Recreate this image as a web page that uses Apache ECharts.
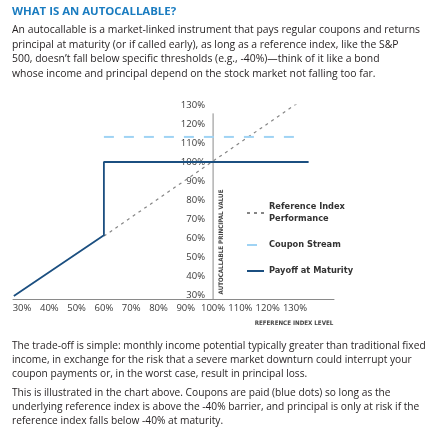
<!DOCTYPE html>
<html>
<head>
<meta charset="utf-8">
<script src="https://cdn.jsdelivr.net/npm/echarts@6/dist/echarts.min.js"></script>
<style>
  html, body { margin: 0; padding: 0; background: #fff; }
  #page { position: relative; width: 432px; height: 443px; overflow: hidden; }
  #chart { position: absolute; left: 0; top: 0; width: 432px; height: 443px; }
  .txt { position: absolute; left: 12px; white-space: nowrap; color: #231f20;
         font-family: "Open Sans", sans-serif; font-size: 10.4px; line-height: 14.5px; }
  #title { position: absolute; left: 12px; top: 3px; color: #1a7cc0; font-family: "Open Sans", sans-serif;
           font-weight: bold; font-size: 11.4px; white-space: nowrap; }
</style>
</head>
<body>
<div id="page">
  <div id="chart"></div>
  <div id="title">WHAT IS AN AUTOCALLABLE?</div>
  <div class="txt" style="top:22px">An autocallable is a market-linked instrument that pays regular coupons and returns<br>principal at maturity (or if called early), as long as a reference index, like the S&amp;P<br>500, doesn’t fall below specific thresholds (e.g., -40%)—think of it like a bond<br>whose income and principal depend on the stock market not falling too far.</div>
  <div class="txt" style="top:338px; line-height:14px; font-size:10.2px">The trade-off is simple: monthly income potential typically greater than traditional fixed<br>income, in exchange for the risk that a severe market downturn could interrupt your<br>coupon payments or, in the worst case, result in principal loss.</div>
  <div class="txt" style="top:385px; line-height:14px; font-size:10.2px">This is illustrated in the chart above. Coupons are paid (blue dots) so long as the<br>underlying reference index is above the -40% barrier, and principal is only at risk if the<br>reference index falls below -40% at maturity.</div>
</div>
<script>
// tick labels (percent of reference / principal)
const xTicks = [30, 40, 50, 60, 70, 80, 90, 100, 110, 120, 130]
const yTicks = [30, 40, 50, 60, 70, 80, 90, 100, 110, 120, 130]

// series, [reference index level, value]
const referenceIndex = [[60, 61], [134.5, 134.5]]
const couponStream = [[60, 113.2], [132.2, 113.2]]
const payoff = [[27, 29.5], [60, 61.4], [60, 100], [135, 100]]

// vertical value axis drawn at the 100% level
const valueAxisAt = 100
const valueAxisSpan = [27.9, 125.6]

const chart = echarts.init(document.getElementById('chart'))

const smallCaps = '"Liberation Sans Narrow", "DejaVu Sans Condensed", sans-serif'

const option = {
  animation: false,
  grid: { left: 13, right: 98, top: 105, bottom: 144 },
  xAxis: {
    type: 'value',
    min: 26.7,
    max: 144.3,
    splitLine: { show: false },
    axisTick: { show: false },
    axisLine: { lineStyle: { color: '#8a8a8a', width: 1 } },
    axisLabel: {
      customValues: xTicks,
      formatter: '{value}%',
      margin: 4,
      color: '#3a3a3a',
      fontFamily: 'Open Sans',
      fontSize: 9.5
    }
  },
  yAxis: {
    type: 'value',
    min: 27.9,
    max: 130,
    offset: -200,
    splitLine: { show: false },
    axisTick: { show: false },
    axisLine: { show: false },
    axisLabel: {
      customValues: yTicks,
      formatter: '{value}%',
      margin: 8,
      color: '#3a3a3a',
      fontFamily: 'Open Sans',
      fontSize: 9.5
    }
  },
  legend: {
    orient: 'vertical',
    left: 246,
    top: 201,
    padding: 0,
    itemWidth: 17,
    itemHeight: 2,
    itemGap: 14,
    itemStyle: { opacity: 0 },
    data: ['Reference Index Performance', 'Coupon Stream', 'Payoff at Maturity'],
    formatter: name => name === 'Reference Index Performance' ? 'Reference Index\nPerformance' : name,
    textStyle: {
      color: '#333',
      fontFamily: smallCaps,
      fontWeight: 'bold',
      fontSize: 9.2,
      lineHeight: 12
    }
  },
  graphic: [
    {
      type: 'text',
      x: 221, y: 242,
      rotation: Math.PI / 2,
      style: {
        text: 'AUTOCALLABLE PRINCIPAL VALUE',
        align: 'center',
        verticalAlign: 'middle',
        fill: '#444',
        font: 'bold 6.2px ' + smallCaps
      }
    },
    {
      type: 'text',
      x: 294, y: 323,
      style: {
        text: 'REFERENCE INDEX LEVEL',
        align: 'center',
        verticalAlign: 'middle',
        fill: '#444',
        font: 'bold 6.2px ' + smallCaps
      }
    }
  ],
  series: [
    {
      name: 'axis',
      type: 'line',
      silent: true,
      symbol: 'none',
      data: valueAxisSpan.map(v => [valueAxisAt, v]),
      lineStyle: { color: '#8a8a8a', width: 1 },
      z: 1
    },
    {
      name: 'Reference Index Performance',
      type: 'line',
      symbol: 'none',
      data: referenceIndex,
      lineStyle: { color: '#858585', width: 1.2, type: [3, 4] },
      itemStyle: { color: '#858585' },
      z: 2
    },
    {
      name: 'Coupon Stream',
      type: 'line',
      symbol: 'none',
      data: couponStream,
      lineStyle: { color: '#9fd3f4', width: 2, type: [10, 10] },
      itemStyle: { color: '#9fd3f4' },
      z: 3
    },
    {
      name: 'Payoff at Maturity',
      type: 'line',
      symbol: 'none',
      data: payoff,
      lineStyle: { color: '#1b4f80', width: 1.8 },
      itemStyle: { color: '#1b4f80' },
      z: 4
    }
  ]
}

chart.setOption(option)
</script>
</body>
</html>
